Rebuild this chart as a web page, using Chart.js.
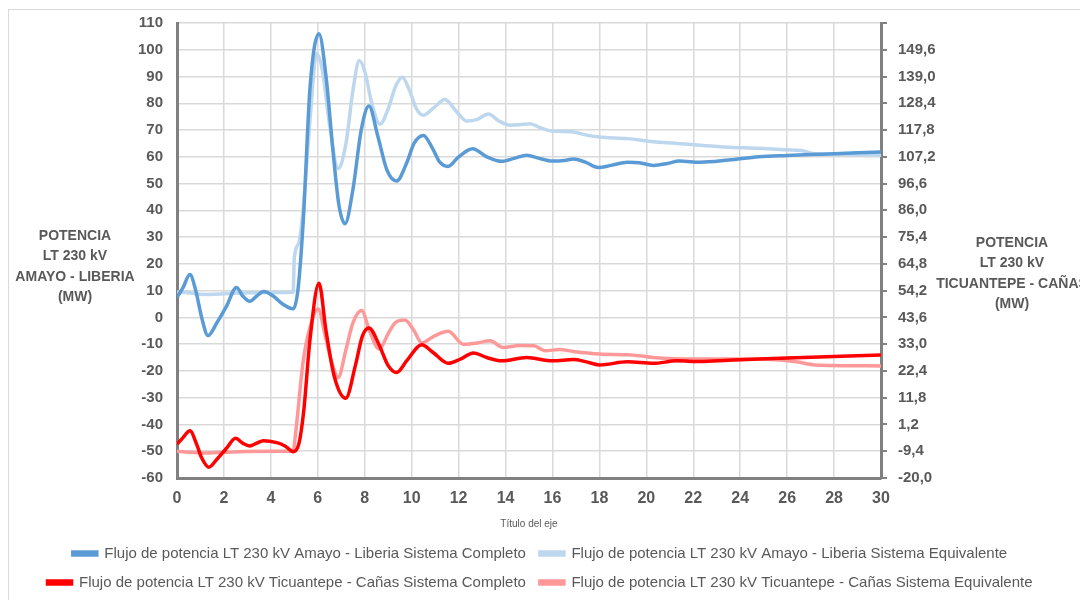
<!DOCTYPE html>
<html>
<head>
<meta charset="utf-8">
<script src="https://cdn.jsdelivr.net/npm/chart.js@4/dist/chart.umd.min.js"></script>
<style>
html, body { margin: 0; padding: 0; background: #fff; }
#frame { position: absolute; left: 8px; top: 9px; width: 1090px; height: 600px; border: 1px solid #d9d9d9; }
#wrap { position: absolute; left: 0; top: 0; width: 1080px; height: 600px; }
</style>
</head>
<body>
<div id="frame"></div>
<div id="wrap"><canvas id="chartFlujo"></canvas></div>
<script>
// Data (tiempo en s, potencia en MW)
var amayoCompletoT = [0, 0.25, 0.55, 0.8, 1.05, 1.32, 1.7, 2.1, 2.54, 2.8, 3.1, 3.4, 3.7, 4.1, 4.5, 4.95, 5.15, 5.38, 5.67, 6.05, 6.35, 6.66, 6.9, 7.16, 7.5, 7.85, 8.18, 8.55, 8.95, 9.36, 9.8, 10.1, 10.5, 10.9, 11.2, 11.55, 12.0, 12.6, 13.2, 13.83, 14.4, 14.9, 15.4, 16.0, 16.5, 16.9, 17.4, 17.95, 18.5, 19.2, 19.7, 20.3, 20.9, 21.4, 22.3, 23.5, 24.8, 26, 27.5, 29, 30];
var amayoCompletoV = [7.5, 11, 16, 10, 0, -6.8, -2, 4, 11.2, 8, 6, 8, 9.7, 8, 5, 3.2, 10, 36, 86, 106, 90, 61, 42, 35, 48, 70, 79, 68, 55, 51, 58, 65, 68, 63, 58, 56.4, 60, 63, 60, 58.3, 59.5, 60.6, 59.5, 58.4, 58.6, 59.2, 58, 56, 56.8, 58, 57.8, 56.8, 57.5, 58.4, 58, 58.8, 60, 60.5, 61, 61.5, 61.8];

var amayoEquivT = [0, 0.5, 1.2, 2, 3, 4, 4.95, 5.0, 5.2, 5.38, 5.67, 5.95, 6.2, 6.5, 6.87, 7.2, 7.5, 7.77, 8.0, 8.3, 8.65, 9.0, 9.3, 9.6, 9.9, 10.2, 10.5, 10.9, 11.42, 11.9, 12.35, 12.8, 13.27, 13.7, 14.2, 14.6, 15.04, 15.5, 16.0, 16.9, 17.4, 18.0, 19.2, 20.3, 21.3, 22.3, 23.5, 24.8, 26, 26.6, 27.1, 28, 30];
var amayoEquivV = [9.5, 9.2, 8.6, 8.8, 9.2, 9.3, 9.4, 22.5, 28, 41, 74, 98.6, 92, 72, 55.6, 65, 85, 95.9, 92, 80, 72.2, 78, 86, 89.7, 85, 78, 75.5, 78, 81.4, 77, 73.4, 74, 76, 73.5, 71.8, 72, 72.4, 70.8, 69.6, 69.3, 68.2, 67.4, 66.8, 65.6, 65, 64.3, 63.6, 63.2, 62.6, 62.4, 61.2, 61, 60.6];

var ticuCompletoT = [0, 0.25, 0.55, 0.85, 1.05, 1.35, 1.7, 2.1, 2.5, 2.8, 3.1, 3.4, 3.68, 4.25, 4.6, 4.96, 5.2, 5.4, 5.67, 6.05, 6.35, 6.7, 7.19, 7.6, 7.9, 8.18, 8.6, 9.0, 9.36, 9.8, 10.43, 10.9, 11.56, 12.1, 12.63, 13.2, 13.83, 14.9, 16.0, 16.9, 17.4, 18.0, 19.2, 20.3, 21.3, 22.3, 23.5, 24.8, 26, 28, 30];
var ticuCompletoV = [-6.6, -4.1, -1.3, -7.0, -12.0, -15.7, -12.6, -8.3, -4.3, -6.2, -7.3, -6.2, -5.2, -6.0, -7.3, -9.6, -6.2, 6.5, 35.1, 57.1, 38.3, 20.3, 11.6, 24.5, 36.2, 39.4, 33.0, 24.5, 21.8, 26.6, 32.8, 29.8, 25.4, 27.2, 29.5, 27.7, 26.4, 27.7, 26.4, 26.9, 26.1, 24.8, 26.0, 25.4, 26.4, 26.1, 26.6, 27.1, 27.5, 28.1, 28.7];

var ticuEquivT = [0, 0.5, 1.2, 2, 3, 4, 4.95, 5.05, 5.38, 5.67, 6.02, 6.3, 6.6, 6.87, 7.2, 7.5, 7.87, 8.2, 8.62, 9.0, 9.3, 9.71, 10.1, 10.43, 10.92, 11.56, 12.2, 12.8, 13.34, 13.9, 14.6, 15.2, 15.7, 16.3, 16.9, 18.0, 19.2, 19.7, 20.3, 22.3, 24.8, 26.4, 27.2, 30];
var ticuEquivV = [-9.4, -9.8, -10.1, -9.8, -9.5, -9.4, -9.4, -2.6, 26.4, 39.7, 46.9, 37, 25.6, 19.8, 30.9, 41.5, 46.3, 38.3, 31.1, 37.2, 41.5, 42.6, 38.3, 33.5, 36.0, 38.1, 33.0, 33.5, 34.4, 31.7, 32.5, 32.4, 30.4, 30.9, 30.1, 29.1, 28.8, 28.4, 27.7, 27.1, 27.1, 26.0, 24.8, 24.4];

var seriesNames = [
    'Flujo de potencia LT 230 kV Amayo - Liberia Sistema Completo',
    'Flujo de potencia LT 230 kV Amayo - Liberia Sistema Equivalente',
    'Flujo de potencia LT 230 kV Ticuantepe - Cañas Sistema Completo',
    'Flujo de potencia LT 230 kV Ticuantepe - Cañas Sistema Equivalente'
];
var leftTitle = ['POTENCIA', 'LT 230 kV', 'AMAYO - LIBERIA', '(MW)'];
var rightTitle = ['POTENCIA', 'LT 230 kV', 'TICUANTEPE - CAÑAS', '(MW)'];
var xTitle = 'Título del eje';

function pares(t, v) {
    return t.map(function (x, i) { return { x: x, y: v[i] }; });
}

function serie(label, t, v, color, axis) {
    return {
        label: label,
        data: pares(t, v),
        borderColor: color,
        backgroundColor: color,
        borderWidth: 3.5,
        pointRadius: 0,
        cubicInterpolationMode: 'monotone',
        yAxisID: axis
    };
}

var data = {
    datasets: [
        serie(seriesNames[0], amayoCompletoT, amayoCompletoV, '#5b9bd5', 'y'),
        serie(seriesNames[1], amayoEquivT, amayoEquivV, '#bdd7ee', 'y'),
        serie(seriesNames[2], ticuCompletoT, ticuCompletoV, '#ff0000', 'y1'),
        serie(seriesNames[3], ticuEquivT, ticuEquivV, '#ff9999', 'y1')
    ]
};

var fam = '"Liberation Sans", Arial, sans-serif';
var tickFont = { family: fam, size: 15, weight: 'bold' };
var grey = '#595959';

// titulos horizontales de los ejes verticales
var sideTitles = {
    id: 'sideTitles',
    afterDraw: function (chart) {
        var ctx = chart.ctx;
        ctx.save();
        ctx.font = 'bold 14px ' + fam;
        ctx.fillStyle = grey;
        ctx.textAlign = 'center';
        ctx.textBaseline = 'middle';
        leftTitle.forEach(function (t, i) { ctx.fillText(t, 75, 236 + i * 20.5); });
        rightTitle.forEach(function (t, i) { ctx.fillText(t, 1012, 243 + i * 20.5); });
        ctx.restore();
    }
};

var options = {
    responsive: true,
    maintainAspectRatio: false,
    animation: false,
    layout: { padding: { left: 0, right: 0, top: 23, bottom: 0 } },
    plugins: {
        legend: {
            position: 'bottom',
            labels: {
                boxWidth: 24,
                boxHeight: 3,
                padding: 14,
                color: grey,
                font: { family: fam, size: 15 }
            }
        },
        tooltip: { enabled: false }
    },
    scales: {
        x: {
            type: 'linear',
            min: 0,
            max: 30,
            ticks: { stepSize: 2, color: grey, font: { family: fam, size: 16, weight: 'bold' }, padding: 11 },
            grid: { color: '#d9d9d9', lineWidth: 1.5, drawTicks: false },
            border: { color: '#808080', width: 3 },
            title: { display: true, text: xTitle, color: grey, font: { family: fam, size: 10 }, padding: { top: 3, bottom: 2 } },
            afterFit: function (s) { s.height = 54; }
        },
        y: {
            position: 'left',
            min: -60,
            max: 110,
            ticks: { stepSize: 10, color: grey, font: tickFont, padding: 14 },
            grid: { color: '#d9d9d9', lineWidth: 1.5, drawTicks: false },
            border: { color: '#808080', width: 3 },
            afterFit: function (s) { s.width = 177; }
        },
        y1: {
            position: 'right',
            min: -20,
            max: 160.2,
            ticks: {
                stepSize: 10.6,
                color: grey,
                font: tickFont,
                padding: 11,
                callback: function (v, i, ticks) {
                    if (i === ticks.length - 1) return '';
                    return v.toFixed(1).replace('.', ',');
                }
            },
            grid: { drawOnChartArea: false, color: '#808080', lineWidth: 2, tickLength: 6 },
            border: { color: '#808080', width: 3 },
            afterFit: function (s) { s.width = 199; }
        }
    }
};

var canvas = document.getElementById('chartFlujo');
var ctx = canvas.getContext('2d');
var chartFlujo = new Chart(ctx, {
    type: 'line',
    data: data,
    options: options,
    plugins: [sideTitles]
});
</script>
</body>
</html>
